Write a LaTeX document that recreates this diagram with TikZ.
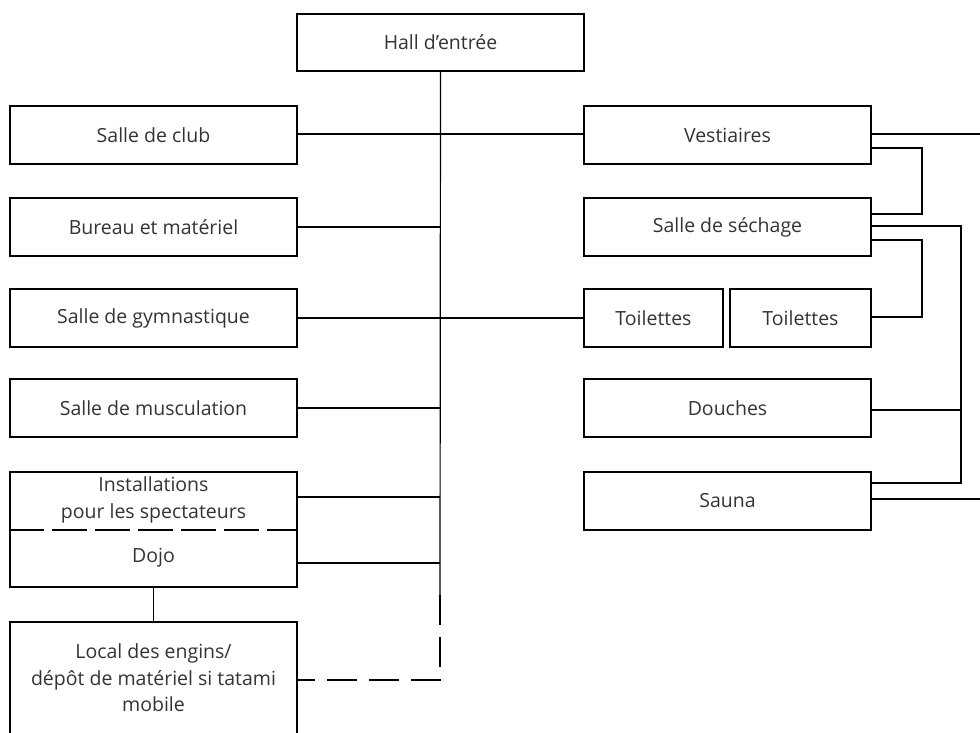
\documentclass[tikz,border=0pt]{standalone}
\usepackage{fontspec}
\setmainfont{Open Sans}
\definecolor{txt}{HTML}{333333}
\begin{document}
\begin{tikzpicture}[x=1pt,y=-1pt,
  room/.style={draw, line width=1.2pt, minimum height=58pt, inner sep=0pt, text=txt,
    font=\fontsize{19.5}{26.5}\selectfont, align=center},
  wide/.style={room, minimum width=287pt},
  lbl/.style={inner sep=0pt, text=txt, font=\fontsize{19.5}{26.5}\selectfont, align=center},
  link/.style={line width=1.2pt},
  dlink/.style={line width=1.2pt, dash pattern=on 30pt off 12pt},
  dsep/.style={line width=1.2pt, dash pattern=on 35pt off 8pt}]
\useasboundingbox (0,0) rectangle (980,733);
% top
\node[wide, minimum height=57pt] (hall) at (440.5,42.5) {Hall d’entrée};
% left column
\node[wide] (club) at (153.5,135) {Salle de club};
\node[wide] (bureau) at (153.5,227) {Bureau et matériel};
\node[wide] (gym) at (153.5,318) {Salle de gymnastique};
\node[wide] (musc) at (153.5,408) {Salle de musculation};
\node[wide, minimum height=115pt] (combo) at (153.5,529.5) {};
\node[lbl] (inst) at (153.5,500) {Installations\\pour les spectateurs};
\node[lbl] (dojo) at (153.5,558) {Dojo};
\draw[dsep] (combo.west |- 0,530) -- (combo.east |- 0,530);
\node[lbl] (local) at (153.5,678) {Local des engins/\\dépôt de matériel si tatami\\mobile};
\coordinate (lbl1) at (10,733);
\coordinate (ltl) at (10,622);
\coordinate (ltr) at (297,622);
\coordinate (lbr) at (297,733);
\draw[link] (lbl1) -- (ltl) -- (ltr) -- (lbr);
% right column
\node[wide] (vest) at (727.5,135) {Vestiaires};
\node[wide] (sech) at (727.5,227) {Salle de séchage};
\node[room, minimum width=139pt] (toil1) at (653.5,318) {Toilettes};
\node[room, minimum width=141pt] (toil2) at (800.5,318) {Toilettes};
\node[wide] (douch) at (727.5,408) {Douches};
\node[wide] (sauna) at (727.5,501) {Sauna};
% main spine
\coordinate (spineend) at (440,595);
\coordinate (dcorner) at (440,680);
\draw[link] (hall.south) -- (spineend);
\draw[dlink] (spineend) -- (dcorner) -- (ltr |- dcorner);
\draw[link] (club.east |- 0,134) -- (vest.west |- 0,134);
\draw[link] (bureau.east) -- (440,227);
\draw[link] (gym.east) -- (toil1.west);
\draw[link] (musc.east) -- (440,408);
\draw[link] (combo.east |- 0,497) -- (440,497);
\draw[link] (combo.east |- 0,563) -- (440,563);
\draw[link] (combo.south) -- (combo.south |- ltl);
% right connectors
\coordinate (r1) at (980,134);
\coordinate (r2) at (980,499);
\draw[link] (vest.east |- r1) -- (r1);
\draw[link] (vest.east |- 0,148) -- (922,148) -- (922,214) -- (sech.east |- 0,214);
\draw[link] (sech.east |- 0,226) -- (961,226) -- (961,483) -- (sauna.east |- 0,483);
\draw[link] (sech.east |- 0,240) -- (922,240) -- (922,317) -- (toil2.east |- 0,317);
\draw[link] (douch.east |- 0,410) -- (961,410);
\draw[link] (sauna.east |- r2) -- (r2);
\end{tikzpicture}
\end{document}
